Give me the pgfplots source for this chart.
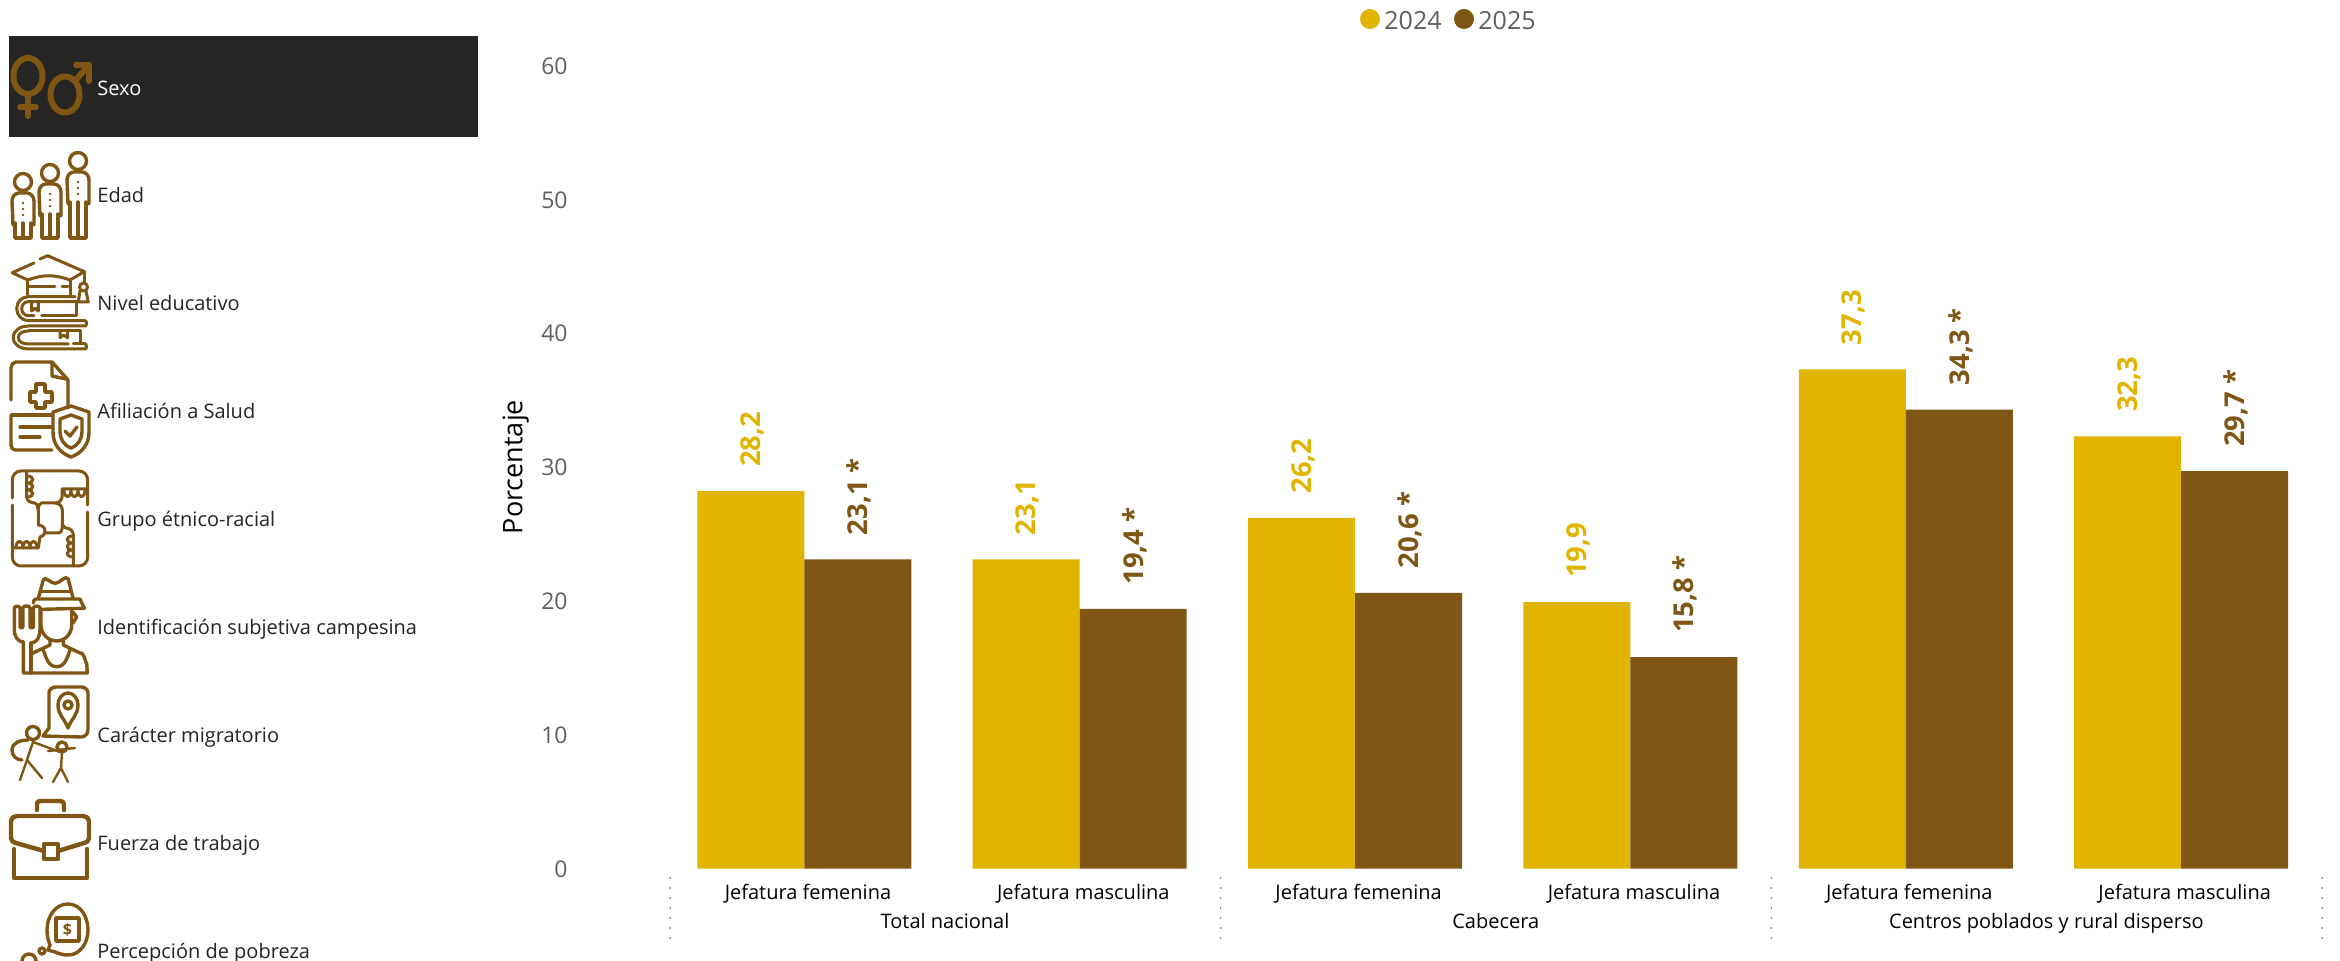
\documentclass[border=0pt]{standalone}
\usepackage{fontspec}
\setmainfont{Open Sans}
\usepackage{pgfplots}
\pgfplotsset{compat=1.18}
\definecolor{yel}{HTML}{E1B400}
\definecolor{bro}{HTML}{7F5613}
\definecolor{band}{HTML}{262523}
\definecolor{tickg}{HTML}{605E5C}
\definecolor{side}{HTML}{252423}
\begin{document}
\begin{tikzpicture}
\useasboundingbox (0,0) rectangle (1170pt,-480.5pt);
\begin{axis}[
  at={(335pt,-434.25pt)},anchor=south west,
  scale only axis,width=823pt,height=401.4pt,
  xmin=-0.488,xmax=5.49,ymin=0,ymax=60,
  clip=false,
  ybar,
  axis line style={draw=none},
  major tick length=0pt,
  tick style={draw=none},
  ytick={0,10,20,30,40,50,60},
  xtick={0,1,2,3,4,5},
  xticklabels={Jefatura femenina,Jefatura masculina,Jefatura femenina,Jefatura masculina,Jefatura femenina,Jefatura masculina},
  /pgf/number format/assume math mode=true,
  yticklabel style={font=\fontsize{11.5}{13}\selectfont,text=tickg,xshift=-51pt,yshift=-0.2pt,inner sep=0pt,anchor=east},
  xticklabel style={font=\fontsize{10}{12}\selectfont,text=black,anchor=base,yshift=-15.6pt,xshift=1.8pt,inner sep=0pt},
  ylabel={Porcentaje},
  ylabel style={font=\fontsize{13.5}{15}\selectfont,text=black,at={(axis description cs:0,0.5)},anchor=south,rotate=0,yshift=67pt},
  bar width=53.5pt,
  point meta=explicit symbolic,
  nodes near coords,
  every node near coord/.append style={rotate=90,anchor=west,inner sep=0pt,xshift=12pt,yshift=-0.7pt,font=\fontsize{13.7}{15}\selectfont\bfseries},
]
\addplot+[ybar,bar shift=-26.75pt,fill=yel,draw=none,every node near coord/.append style={text=yel}] coordinates {
 (0,28.2) [28,2]
 (1,23.1) [23,1]
 (2,26.2) [26,2]
 (3,19.9) [19,9]
 (4,37.3) [37,3]
 (5,32.3) [32,3]
};
\addplot+[ybar,bar shift=26.75pt,fill=bro,draw=none,every node near coord/.append style={text=bro}] coordinates {
 (0,23.1) [23,1 *]
 (1,19.4) [19,4 *]
 (2,20.6) [20,6 *]
 (3,15.8) [15,8 *]
 (4,34.3) [34,3 *]
 (5,29.7) [29,7 *]
};
\foreach \s in {-0.488,1.512,3.512,5.512}{
  \edef\tmp{\noexpand\draw[draw=gray,line width=1pt,line cap=round,dash pattern=on 0pt off 5pt] ([yshift=-4.75pt]axis cs:\s,0) -- ([yshift=-35pt]axis cs:\s,0);}
  \tmp
}
\foreach \c/\t in {0.5/Total nacional,2.5/Cabecera,4.5/Centros poblados y rural disperso}{
  \edef\tmp{\noexpand\node[anchor=base,inner sep=0pt,font=\noexpand\fontsize{10}{12}\noexpand\selectfont] at ([yshift=-29.75pt,xshift=1.5pt]axis cs:\c,0) {\t};}
  \tmp
}
\end{axis}
\begin{scope}[x=0.5pt,y=-0.5pt]
% legend
\fill[yel] (1370,19) circle (10);
\fill[bro] (1464,19) circle (10);
\node[anchor=base west,inner sep=0pt,text=tickg,font=\fontsize{12.5}{14}\selectfont] at (1384,29.5) {2024};
\node[anchor=base west,inner sep=0pt,text=tickg,font=\fontsize{12.5}{14}\selectfont] at (1478,29.5) {2025};
% sidebar
\fill[band] (9,36) rectangle (478,137);
\foreach \yy/\tt/\cc in {91/Sexo/white,198/Edad/side,306/Nivel educativo/side,414/Afiliación a Salud/side,522/Grupo étnico-racial/side,630/Identificación subjetiva campesina/side,738/Carácter migratorio/side,846/Fuerza de trabajo/side,954/Percepción de pobreza/side}{
  \node[anchor=west,inner sep=0pt,text=\cc,font=\fontsize{10}{12}\selectfont] at (97,\yy) {\strut\tt};
}
\begin{scope}[draw=bro,line width=1.7pt,line cap=round,line join=round]
% Sexo
\begin{scope}[line width=3pt]
\draw (28,76) ellipse (14.5 and 18);
\draw (28,95) -- (28,116); \draw (20,107) -- (36,107);
\draw (65,94.5) ellipse (14.5 and 18);
\draw (75,81) -- (87,67); \draw (76,65) -- (89,65) -- (89,81);
\end{scope}
% Edad
\foreach \x/\h/\t in {23/182/193,50/173/184,78/161/172}{
  \draw (\x,\h) circle (8.5);
  \draw (\x-10,\t+32) -- (\x-11,\t+8) to[out=90,in=180] (\x-4,\t) -- (\x+4,\t) to[out=0,in=90] (\x+11,\t+8) -- (\x+11,\t+32);
  \draw (\x-8,\t+30) -- (\x-8,238) -- (\x+8,238) -- (\x+8,\t+30);
  \draw (\x,\t+30) -- (\x,238);
  \fill[bro] (\x,\t+10) circle (1.4) (\x,\t+16) circle (1.4) (\x,\t+22) circle (1.4);
}
% Nivel educativo
\begin{scope}[line width=1.5pt]
\draw (34,263) -- (12.3,272.7) -- (27.7,280) to[out=20,in=160] (70,280) -- (84.3,271.7) -- (47.7,255.7) -- (40,259);
\draw (27.7,280) -- (27.7,295); \draw (70,280) -- (70,295);
\draw (29,287) -- (55,287); \draw (62,287) -- (68,287);
\draw (84.3,271.7) -- (84.3,282); \draw (83.5,287) circle (4);
\draw (80,291) -- (78.3,302) -- (88.3,302) -- (86,291);
\draw (75,296.7) -- (28.3,296.7) to[out=180,in=90] (16.7,308.5) to[out=-90,in=180] (28.3,320.7) -- (85,320.7);
\draw (76.7,301.7) -- (28.3,301.7) to[out=180,in=90] (21.7,308.5) to[out=-90,in=180] (28.3,315.7) -- (34,315.7);
\draw (41.7,315.7) -- (76.7,315.7) -- (76.7,301.7);
\draw (31.7,302) -- (31.7,311) -- (35,308.3) -- (38.3,311) -- (38.3,302);
\draw (85,320.7) to[out=0,in=0] (85,326) -- (28.3,326) to[out=180,in=90] (13.3,337.5) to[out=-90,in=180] (28.3,349) -- (85,349) to[out=0,in=0] (85,344);
\draw (28.3,331) to[out=180,in=90] (18.3,337.5) to[out=-90,in=180] (28.3,344) -- (68.3,344);
\draw (73.3,344) -- (85,344);
\draw (28.3,331) -- (80,331) -- (80,342);
\draw (60,331) -- (60,337.7) -- (63.5,335) -- (67.7,337.7) -- (67.7,331);
\end{scope}
% Afiliacion
\draw (11,400) -- (11,368) to[out=90,in=180] (16,362) -- (52,362) -- (68,380) -- (68,408);
\draw (52,362) -- (52,376) -- (66,379);
\draw (11,415) -- (11,445) to[out=-90,in=180] (15,450) -- (52,450);
\draw (36,384) -- (45,384) -- (45,392) -- (52,392) -- (52,402) -- (45,402) -- (45,408) -- (36,408) -- (36,402) -- (30,402) -- (30,392) -- (36,392) -- cycle;
\draw (20,427) -- (52,427) (20,437) -- (40,437) (12,415) -- (52,415);
\draw (71,406) -- (89,412) -- (89,432) to[out=-90,in=20] (71,457) to[out=160,in=-90] (53,432) -- (53,412) -- cycle;
\draw (71,415) -- (82,419) -- (82,431) to[out=-90,in=20] (71,448) to[out=160,in=-90] (60,431) -- (60,419) -- cycle;
\draw (65,431) -- (70,436) -- (77,427);
% Grupo etnico
\begin{scope}[line width=1.5pt]
\draw (12.3,498) -- (12.3,480) to[out=90,in=180] (21,471) -- (79,471) to[out=0,in=90] (87.7,480) -- (87.7,505);
\draw (87.7,512) -- (87.7,557) to[out=-90,in=0] (79,566) -- (21,566) to[out=180,in=-90] (12.3,557) -- (12.3,505);
% top left hand
\draw (26.7,471) -- (26.7,497) to[out=-90,in=180] (35,503) to[out=0,in=-90] (38.3,511);
\draw (26.7,476) .. controls (35,476) and (35,483) .. (26.7,483) .. controls (35,483) and (35,490) .. (26.7,490) .. controls (35,490) and (35,497) .. (26.7,497);
% square
\draw (38.3,511) -- (38.3,525) to[out=0,in=90] (45,531) to[out=-90,in=0] (40,537) -- (38.3,548) -- (12.3,548);
\draw (38.3,509) to[out=90,in=180] (41.7,503) -- (55,503) to[out=0,in=-90] (62,497) -- (62,489) -- (87.7,489);
\draw (64,490) .. controls (64,499) and (71,499) .. (71,490) .. controls (71,499) and (78,499) .. (78,490) .. controls (78,499) and (85,499) .. (85,490);
\draw (55,503) to[out=0,in=90] (62.3,510) -- (62.3,525) to[out=90,in=180] (66,528) to[out=0,in=90] (73.3,535) -- (73.3,566);
\draw (62.3,525) to[out=-90,in=0] (58.3,533) -- (45,533);
\draw (73.3,536) .. controls (65,536) and (65,543) .. (73.3,543) .. controls (65,543) and (65,550) .. (73.3,550) .. controls (65,550) and (65,557) .. (73.3,557);
\draw (16,548) .. controls (16,539) and (23,539) .. (23,548) .. controls (23,539) and (30,539) .. (30,548) .. controls (30,539) and (37,539) .. (37,548);
\end{scope}
% Campesino
\draw (38.3,598.3) -- (43.3,580) to[out=70,in=180] (55,583.3) to[out=0,in=120] (68.3,579) -- (73.3,599);
\draw (40,591.7) -- (70,591.7);
\draw (33.3,603) to[out=90,in=180] (36,599) -- (80,599) -- (84.3,608.3) -- (41.7,609.3);
\draw (41,610) -- (41,625) to[out=-90,in=180] (56.7,641) to[out=0,in=-90] (71.7,625) -- (71.7,610);
\draw (73,612) -- (76.7,617) -- (73,623);
\draw (23.3,642) to[out=180,in=-90] (14.3,630) -- (14.3,608) to[out=90,in=90] (20,608) -- (20,627) to[out=-90,in=-90] (23,627) -- (23,608) to[out=90,in=90] (30,608) -- (30,627) to[out=-90,in=-90] (33.5,627) -- (33.5,608) to[out=90,in=90] (40,608) -- (40,630) to[out=-90,in=0] (31,643);
\draw (23.3,642) -- (23.3,673) -- (87.3,673) -- (86.7,663) to[out=-90,in=20] (80,653) -- (63.3,645) -- (63.3,640);
\draw (31,643) -- (31,673);
\draw (50,640) -- (50,645) -- (31,654);
\draw (43.3,650) to[out=-70,in=180] (56.7,666.7) to[out=0,in=-110] (70,650);
% Migrante
\draw (43,736) -- (49,728) -- (49,693) to[out=90,in=180] (56,687) -- (81,687) to[out=0,in=90] (88,693) -- (88,730) to[out=-90,in=0] (81,737) -- cycle;
\draw (68,693) to[out=180,in=90] (58,705) to[out=-90,in=110] (68,728) to[out=70,in=-90] (78,705) to[out=90,in=0] (68,693);
\draw (68,705) circle (4);
\draw (33,733) circle (6.5);
\draw (28,740) to[out=180,in=90] (12,750) to[out=-90,in=180] (22,760);
\begin{scope}[line width=1.2pt,double=white,double distance=2.4pt]
\draw (33,742) -- (60,752);
\draw (33,742) -- (27,760) -- (20,780);
\draw (27,760) -- (42,778);
\draw (48,751) -- (75,748);
\draw (62,752) -- (61,768) -- (53,782);
\draw (61,768) -- (68,782);
\end{scope}
\draw (62,747) circle (5);
% Maletin
\begin{scope}[line width=2.2pt]
\draw (37,810) -- (37,803) to[out=90,in=180] (42,801) -- (60,801) to[out=0,in=90] (64,804) -- (64,810);
\draw (44,851) -- (16,843) to[out=180,in=-90] (11,838) -- (11,821) to[out=90,in=180] (17,816) -- (83,816) to[out=0,in=90] (89,821) -- (89,838) to[out=-90,in=0] (84,843) -- (58,851);
\draw (14,849) -- (14,878) -- (87,878) -- (87,849);
\draw (44,844) rectangle (58,859);
\end{scope}
% Pobreza
\draw (68,904) to[out=180,in=90] (47,930) to[out=-90,in=110] (50,945) -- (48,950) -- (55,952) to[out=-20,in=180] (68,955) to[out=0,in=-90] (88,930) to[out=90,in=0] (68,904);
\draw (56,918) rectangle (79,941);
\node[text=bro,inner sep=0pt,font=\fontsize{8}{9}\selectfont\bfseries] at (67.5,930) {\$};
\draw (42,951) circle (3);
\draw (22,961) to[out=90,in=180] (29,954) to[out=0,in=90] (36,961);
\end{scope}
\end{scope}
\end{tikzpicture}
\end{document}
